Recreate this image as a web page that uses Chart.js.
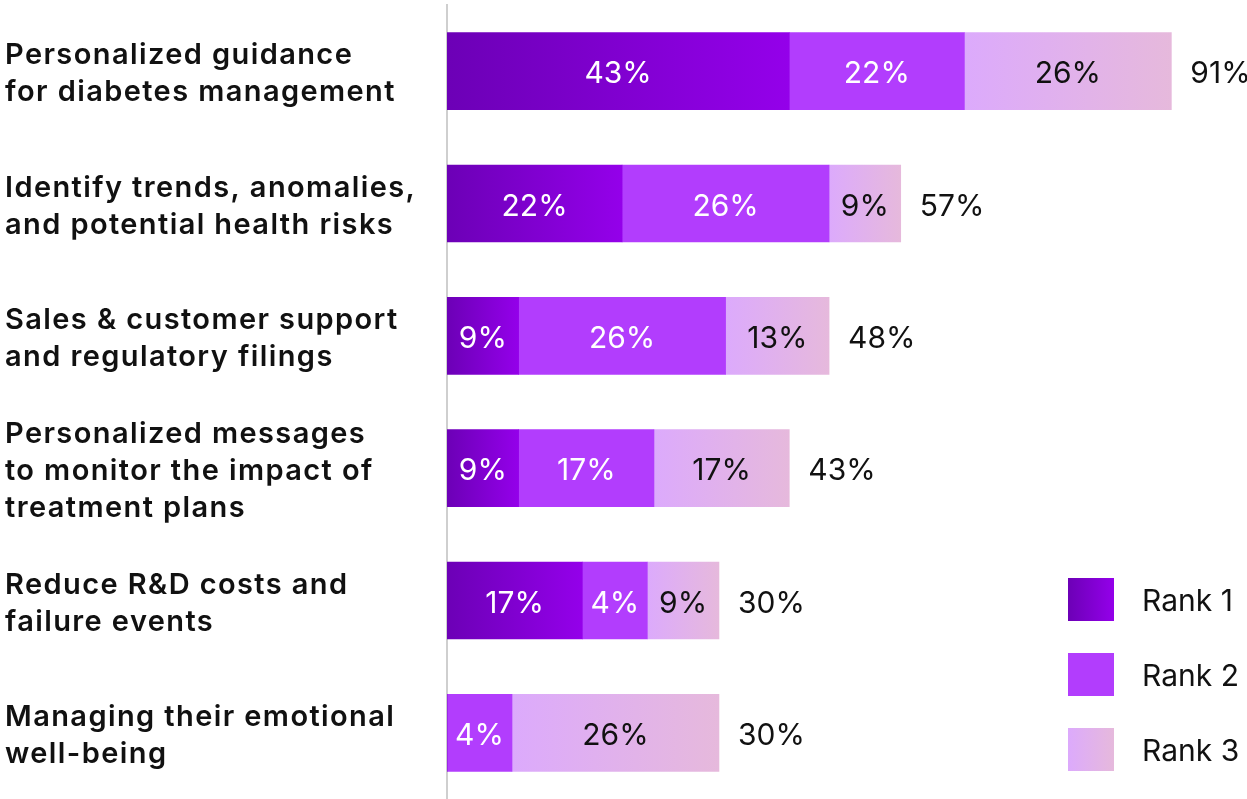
<!DOCTYPE html>
<html>
<head>
<meta charset="utf-8">
<script src="https://cdn.jsdelivr.net/npm/chart.js@4"></script>
<style>
    html, body { margin: 0; padding: 0; background: #fff; }
    #wrap { width: 1247px; height: 799px; }
</style>
</head>
<body>
<div id="wrap"><canvas id="chart"></canvas></div>
<script>
const categories = [
    ['Personalized guidance', 'for diabetes management'],
    ['Identify trends, anomalies,', 'and potential health risks'],
    ['Sales & customer support', 'and regulatory filings'],
    ['Personalized messages', 'to monitor the impact of', 'treatment plans'],
    ['Reduce R&D costs and', 'failure events'],
    ['Managing their emotional', 'well-being']
];
const rank1 = [43, 22, 9, 9, 17, 0];
const rank2 = [22, 26, 26, 17, 4, 4];
const rank3 = [26, 9, 13, 17, 9, 26];
const seriesNames = ['Rank 1', 'Rank 2', 'Rank 3'];

const FONT = 'Inter, "Noto Sans", sans-serif';
const MIN_SEG = 65; // small segments are widened so their label fits

// left/right colour stops of each rank's gradient
const rankColors = [
    ['#6c00b6', '#9400ea'],
    ['#b23dfd', '#b23dfd'],
    ['#dcaafc', '#e6b9dc']
];
const labelColors = ['#ffffff', '#ffffff', '#111111'];
const allSeries = [rank1, rank2, rank3];

// pixel extents of each segment in row i, laid out from the x scale
function segments(x, i) {
    let cursor = x.getPixelForValue(0);
    let sum = 0;
    return allSeries.map(s => {
        const v = s[i];
        if (!v) return null;
        const w = Math.max(x.getPixelForValue(sum + v) - x.getPixelForValue(sum), MIN_SEG);
        sum += v;
        const seg = [cursor, cursor + w];
        cursor += w;
        return seg;
    });
}

function barFill(dsIndex) {
    return (ctx) => {
        const chart = ctx.chart;
        const x = chart.scales.x;
        const c = rankColors[dsIndex];
        if (!x || ctx.type !== 'data') return c[0];
        const seg = segments(x, ctx.dataIndex)[dsIndex];
        if (!seg || !isFinite(seg[0]) || !isFinite(seg[1])) return c[0];
        const g = chart.ctx.createLinearGradient(seg[0], 0, seg[1], 0);
        g.addColorStop(0, c[0]);
        g.addColorStop(1, c[1]);
        return g;
    };
}

const minWidth = {
    id: 'minWidth',
    afterDatasetsUpdate(chart) {
        const x = chart.scales.x;
        categories.forEach((c, i) => {
            const segs = segments(x, i);
            segs.forEach((seg, d) => {
                const el = chart.getDatasetMeta(d).data[i];
                if (!seg || !el) return;
                el.base = seg[0];
                el.x = seg[1];
                el.width = seg[1] - seg[0];
            });
        });
    }
};

const valueLabels = {
    id: 'valueLabels',
    afterDatasetsDraw(chart) {
        const ctx = chart.ctx;
        const x = chart.scales.x, y = chart.scales.y;
        ctx.save();
        ctx.letterSpacing = '0px';
        ctx.font = '400 30px ' + FONT;
        ctx.textBaseline = 'middle';
        ctx.textAlign = 'center';
        chart.data.datasets.forEach((ds, di) => {
            chart.getDatasetMeta(di).data.forEach((bar, i) => {
                if (!ds.data[i]) return;
                ctx.fillStyle = labelColors[di];
                ctx.fillText(ds.data[i] + '%', (bar.x + bar.base) / 2, bar.y + 3);
            });
        });
        // totals to the right of each bar
        ctx.textAlign = 'left';
        ctx.fillStyle = '#111111';
        categories.forEach((c, i) => {
            const total = rank1[i] + rank2[i] + rank3[i];
            const segs = segments(x, i).filter(Boolean);
            const end = segs[segs.length - 1][1];
            ctx.fillText(total + '%', end + 19, y.getPixelForValue(i) + 3);
        });
        ctx.restore();
    }
};

const rankLegend = {
    id: 'rankLegend',
    afterDraw(chart) {
        const ctx = chart.ctx;
        ctx.save();
        ctx.letterSpacing = '0px';
        ctx.font = '400 30px ' + FONT;
        ctx.textBaseline = 'middle';
        ctx.textAlign = 'left';
        seriesNames.forEach((name, i) => {
            const top = 578 + i * 75;
            const g = ctx.createLinearGradient(1068, 0, 1114, 0);
            g.addColorStop(0, rankColors[i][0]);
            g.addColorStop(1, rankColors[i][1]);
            ctx.fillStyle = g;
            ctx.fillRect(1068, top, 46, 43);
            ctx.fillStyle = '#111111';
            ctx.fillText(name, 1142, top + 24);
        });
        ctx.restore();
    }
};

// the category labels use a wider letter spacing
const labelSpacing = {
    id: 'labelSpacing',
    beforeDraw(chart) { chart.ctx.letterSpacing = '1.4px'; },
    beforeDatasetsDraw(chart) { chart.ctx.letterSpacing = '0px'; }
};

new Chart(document.getElementById('chart'), {
    type: 'bar',
    data: {
        labels: categories,
        datasets: [0, 1, 2].map(d => ({
            label: seriesNames[d],
            data: allSeries[d],
            backgroundColor: barFill(d),
            borderWidth: 0,
            barThickness: 77
        }))
    },
    options: {
        indexAxis: 'y',
        responsive: true,
        maintainAspectRatio: false,
        animation: false,
        layout: { padding: { left: 5, right: 4, top: 5, bottom: 0 } },
        scales: {
            x: {
                stacked: true,
                min: 0,
                max: 100,
                display: false
            },
            y: {
                stacked: true,
                grid: { display: false },
                border: { display: true, color: '#cfcfcf', width: 2 },
                afterFit(scale) {
                    scale.width = 442;
                    scale.paddingTop = 0;
                    scale.paddingBottom = 0;
                },
                ticks: {
                    crossAlign: 'far',
                    labelOffset: 3,
                    color: '#111111',
                    font: { family: FONT, size: 29, weight: '600', lineHeight: 1.28 }
                }
            }
        },
        plugins: {
            legend: { display: false },
            tooltip: { enabled: false }
        }
    },
    plugins: [labelSpacing, minWidth, valueLabels, rankLegend]
});
</script>
</body>
</html>
